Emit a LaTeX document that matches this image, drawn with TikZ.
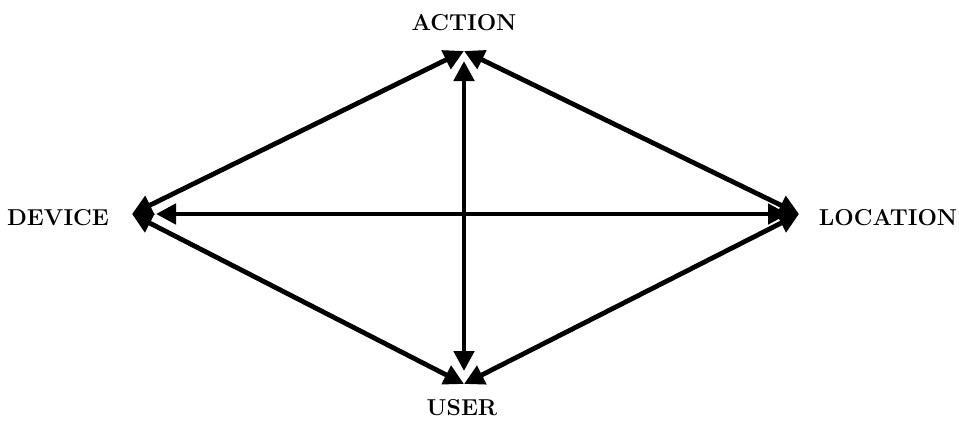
\documentclass[tikz,border=0pt]{standalone}
\usepackage{tikz}
\usetikzlibrary{arrows.meta,positioning,calc}

\tikzset{
  lbl/.style={font=\fontsize{11.5}{13}\selectfont\bfseries,inner sep=0pt},
  link/.style={line width=2.4pt,{Triangle[length=10pt,width=10pt]}-{Triangle[length=10pt,width=10pt]}}
}

\begin{document}
\begin{tikzpicture}[x=0.5pt,y=-0.5pt]
  \useasboundingbox (0,0) rectangle (959,423);
  % labels
  \node[lbl] (action) at (464,23) {ACTION};
  \node[lbl] (device) at (58,218) {DEVICE};
  \node[lbl] (location) at (888,218) {LOCATION};
  \node[lbl] (user) at (462,408) {USER};
  % corners of the diamond
  \coordinate (vA) at (464,51);
  \coordinate (vD) at (132,214);
  \coordinate (vL) at (799,214);
  \coordinate (vU) at (464,384);
  % outer edges
  \draw[link] (vD) -- (vA);
  \draw[link] (vA) -- (vL);
  \draw[link] (vD) -- (vU);
  \draw[link] (vU) -- (vL);
  % cross
  \draw[link,shorten <=5pt,shorten >=6.5pt] (vA) -- (vU);
  \draw[link,shorten <=12pt,shorten >=5.5pt] (vD) -- (vL);
\end{tikzpicture}
\end{document}
